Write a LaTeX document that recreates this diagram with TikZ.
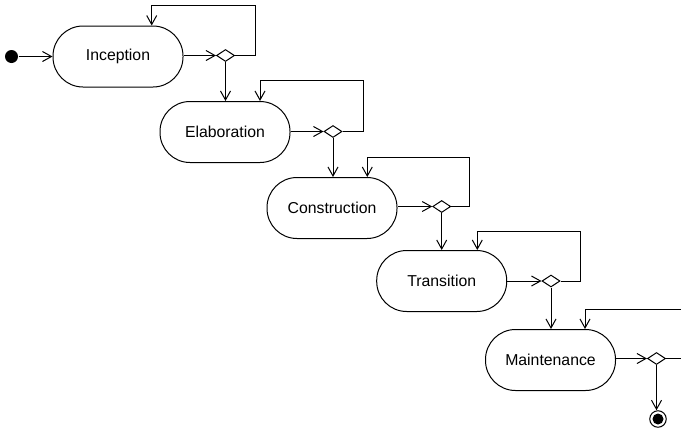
\documentclass[tikz,border=0pt]{standalone}
\usepackage{fontspec}
\setmainfont{Liberation Sans}
\usetikzlibrary{arrows.meta,shapes.geometric}
\begin{document}
\begin{tikzpicture}[x=1pt,y=-1pt,line width=1pt,
  act/.style={draw,rectangle,rounded corners=30pt,minimum width=130pt,minimum height=61pt,inner sep=0pt,font=\fontsize{15.8}{19}\selectfont},
  dec/.style={draw,diamond,minimum width=18pt,minimum height=12pt,inner sep=0pt,aspect=1.5,fill=white},
  arr/.style={-{Straight Barb[length=9pt,width=10pt]}}]
\useasboundingbox (0,0) rectangle (681,429);
% activities
\node[act] (I) at (118,56.5) {Inception};
\node[act] (E) at (225,132) {Elaboration};
\node[act] (C) at (332,208) {Construction};
\node[act] (T) at (441.7,281) {Transition};
\node[act] (M) at (550.5,360) {Maintenance};
% decisions
\node[dec] (D1) at (225.5,55.5) {};
\node[dec] (D2) at (333,131.5) {};
\node[dec] (D3) at (441.7,206.5) {};
\node[dec] (D4) at (551,281) {};
\node[dec] (D5) at (656.5,358.5) {};
% start / end
\node[circle,fill=black,minimum size=13pt,inner sep=0pt] (S) at (11.5,56.5) {};
\node[circle,draw,minimum size=16.5pt,inner sep=0pt] (F) at (658,419) {};
\node[circle,fill=black,minimum size=11pt,inner sep=0pt] (Fi) at (658,419) {};
% loop corners
\coordinate (a1) at (255,55.5);   \coordinate (b1) at (255,5);     \coordinate (c1) at (151.7,5);
\coordinate (a2) at (363,131.5);  \coordinate (b2) at (363,80.7);  \coordinate (c2) at (260,80.7);
\coordinate (a3) at (469,206.5);  \coordinate (b3) at (469,157.7); \coordinate (c3) at (367.3,157.7);
\coordinate (a4) at (580.7,281);  \coordinate (b4) at (580.7,231); \coordinate (c4) at (477.3,231);
\coordinate (a5) at (681,358.5);  \coordinate (b5) at (681,309);   \coordinate (c5) at (585,309);
% flows
\draw[arr] (S) -- (I.west);
\draw[arr] (I.east |- D1) -- (D1.west);
\draw[arr] (E.east |- D2) -- (D2.west);
\draw[arr] (C.east |- D3) -- (D3.west);
\draw[arr] (T.east |- D4) -- (D4.west);
\draw[arr] (M.east |- D5) -- (D5.west);
\draw[arr] (D1.south) -- (D1.south |- E.north);
\draw[arr] (D2.south) -- (D2.south |- C.north);
\draw[arr] (D3.south) -- (D3.south |- T.north);
\draw[arr] (D4.south) -- (D4.south |- M.north);
\draw[arr] (D5.south) -- (D5.south |- F.north);
\draw[arr] (D1.east) -- (a1) -- (b1) -- (c1) -- (c1 |- I.north);
\draw[arr] (D2.east) -- (a2) -- (b2) -- (c2) -- (c2 |- E.north);
\draw[arr] (D3.east) -- (a3) -- (b3) -- (c3) -- (c3 |- C.north);
\draw[arr] (D4.east) -- (a4) -- (b4) -- (c4) -- (c4 |- T.north);
\draw (D5.east) -- (a5);
\draw[arr] (b5) -- (c5) -- (c5 |- M.north);
\end{tikzpicture}
\end{document}
